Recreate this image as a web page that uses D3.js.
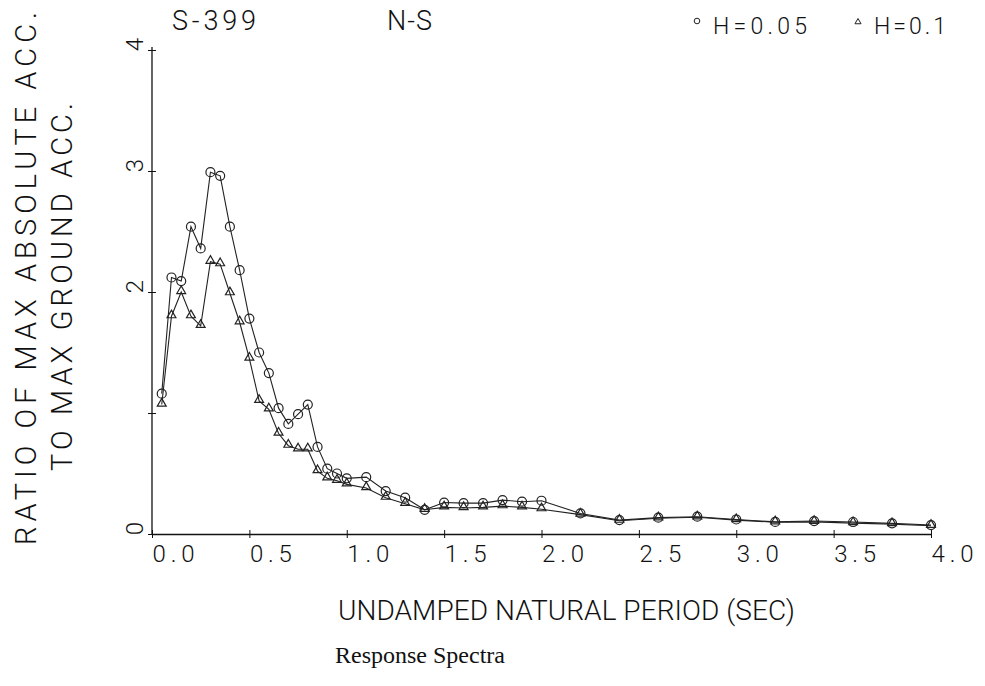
<!DOCTYPE html>
<html>
<head>
<meta charset="utf-8">
<script src="https://cdn.jsdelivr.net/npm/d3@7"></script>
<style>
  html, body { margin: 0; padding: 0; background: #fff; }
  svg { display: block; }
  .plot-text { font-family: "Roboto", "DejaVu Sans", sans-serif; font-weight: 300; fill: #111; }
  .caption { font-family: "Liberation Serif", "Times New Roman", serif; fill: #111; }
</style>
</head>
<body>
<svg id="chart" width="985" height="686"></svg>
<script>
// ---- data ----
const periods = [0.05,0.10,0.15,0.20,0.25,0.30,0.35,0.40,0.45,0.50,
                 0.55,0.60,0.65,0.70,0.75,0.80,0.85,0.90,0.95,1.00,
                 1.1,1.2,1.3,1.4,1.5,1.6,1.7,1.8,1.9,2.0,
                 2.2,2.4,2.6,2.8,3.0,3.2,3.4,3.6,3.8,4.0];
const ratioH005 = [1.16,2.12,2.09,2.54,2.36,2.99,2.96,2.54,2.18,1.78,
                   1.50,1.33,1.04,0.91,0.99,1.07,0.72,0.54,0.50,0.46,
                   0.47,0.355,0.30,0.20,0.26,0.255,0.255,0.28,0.267,0.275,
                   0.17,0.115,0.135,0.143,0.12,0.10,0.107,0.099,0.088,0.074];
const ratioH01  = [1.07,1.80,2.00,1.80,1.72,2.25,2.23,1.99,1.75,1.45,
                   1.10,1.03,0.83,0.73,0.70,0.70,0.52,0.46,0.44,0.41,
                   0.38,0.30,0.25,0.20,0.22,0.215,0.22,0.23,0.22,0.205,
                   0.16,0.11,0.13,0.138,0.115,0.097,0.10,0.09,0.082,0.068];
const xTickValues = [0,0.5,1.0,1.5,2.0,2.5,3.0,3.5,4.0];
const xTickLabels = ["0.0","0.5","1.0","1.5","2.0","2.5","3.0","3.5","4.0"];
const yTickValues = [0,1,2,3,4];
const yTickLabels = ["0","","2","3","4"];
const seriesNames = ["H=0.05","H=0.1"];

const svg = d3.select("#chart");
const x = d3.scaleLinear().domain([0,4]).range([152,931]);
const y = d3.scaleLinear().domain([0,4]).range([534,50]);

// axes
const xAxis = d3.axisBottom(x).tickValues(xTickValues)
  .tickFormat((d,i)=>xTickLabels[i]).tickSizeInner(4).tickSizeOuter(0);
const gx = svg.append("g").attr("transform",`translate(0,${y(0)})`).call(xAxis);
gx.select(".domain").attr("stroke","#111").attr("stroke-width",1.3);
gx.selectAll(".tick line").attr("stroke","#111").attr("y1",-4).attr("y2",4);
gx.selectAll(".tick text").attr("class","plot-text").attr("text-anchor","start")
  .attr("font-size",24).attr("y",28).attr("dy",0).attr("dx",0)
  .attr("textLength",42).attr("lengthAdjust","spacing");

const yAxis = d3.axisLeft(y).tickValues(yTickValues)
  .tickFormat((d,i)=>yTickLabels[i]).tickSizeInner(4).tickSizeOuter(0);
const gy = svg.append("g").attr("transform",`translate(${x(0)},0)`).call(yAxis);
gy.select(".domain").attr("stroke","#111").attr("stroke-width",1.3)
  .attr("d",`M0,${y(4)-3}V${y(0)}`);
gy.selectAll(".tick line").attr("stroke","#111").attr("x1",-4).attr("x2",4);
gy.selectAll(".tick text").attr("class","plot-text").attr("font-size",24)
  .attr("text-anchor","middle").attr("x",null).attr("dy",null)
  .attr("transform","translate(-9,-6) rotate(-90)").attr("y",0);

// lines
const line = d3.line().x((d,i)=>x(periods[i])).y(d=>y(d));
svg.append("path").datum(ratioH005).attr("d",line)
  .attr("fill","none").attr("stroke","#222").attr("stroke-width",1.1);
svg.append("path").datum(ratioH01).attr("d",line)
  .attr("fill","none").attr("stroke","#222").attr("stroke-width",1.1);

// markers
svg.append("g").selectAll("circle").data(ratioH005).join("circle")
  .attr("cx",(d,i)=>x(periods[i])).attr("cy",d=>y(d)).attr("r",4.5)
  .attr("fill","none").attr("stroke","#222").attr("stroke-width",1.2);
const tri = d3.symbol().type(d3.symbolTriangle).size(34);
svg.append("g").selectAll("path").data(ratioH01).join("path")
  .attr("d",tri)
  .attr("transform",(d,i)=>`translate(${x(periods[i])},${y(d)-1})`)
  .attr("fill","none").attr("stroke","#222").attr("stroke-width",1.2);

// titles
svg.append("text").attr("class","plot-text").attr("x",172).attr("y",30)
  .attr("font-size",27).attr("textLength",84).attr("lengthAdjust","spacing").text("S-399");
svg.append("text").attr("class","plot-text").attr("x",387).attr("y",30)
  .attr("font-size",27).attr("textLength",45).attr("lengthAdjust","spacing").text("N-S");

// legend
svg.append("circle").attr("cx",697).attr("cy",21).attr("r",2.8)
  .attr("fill","none").attr("stroke","#222").attr("stroke-width",1);
svg.append("text").attr("class","plot-text").attr("x",713).attr("y",34)
  .attr("font-size",23).attr("textLength",94).attr("lengthAdjust","spacing").text(seriesNames[0]);
svg.append("path").attr("d",d3.symbol().type(d3.symbolTriangle).size(16))
  .attr("transform","translate(858,22)")
  .attr("fill","none").attr("stroke","#222").attr("stroke-width",1);
svg.append("text").attr("class","plot-text").attr("x",874).attr("y",34)
  .attr("font-size",23).attr("textLength",72).attr("lengthAdjust","spacing").text(seriesNames[1]);

// axis titles
svg.append("text").attr("class","plot-text")
  .attr("transform","translate(36,545) rotate(-90)")
  .attr("font-size",29).attr("textLength",533).attr("lengthAdjust","spacing")
  .text("RATIO OF MAX ABSOLUTE ACC.");
svg.append("text").attr("class","plot-text")
  .attr("transform","translate(72,471) rotate(-90)")
  .attr("font-size",29).attr("textLength",368).attr("lengthAdjust","spacing")
  .text("TO MAX GROUND ACC.");
svg.append("text").attr("class","plot-text").attr("x",338).attr("y",620)
  .attr("font-size",28).attr("textLength",457).attr("lengthAdjust","spacing")
  .text("UNDAMPED NATURAL PERIOD (SEC)");

svg.append("text").attr("class","caption").attr("x",335).attr("y",663)
  .attr("font-size",24).text("Response Spectra");
</script>
</body>
</html>
